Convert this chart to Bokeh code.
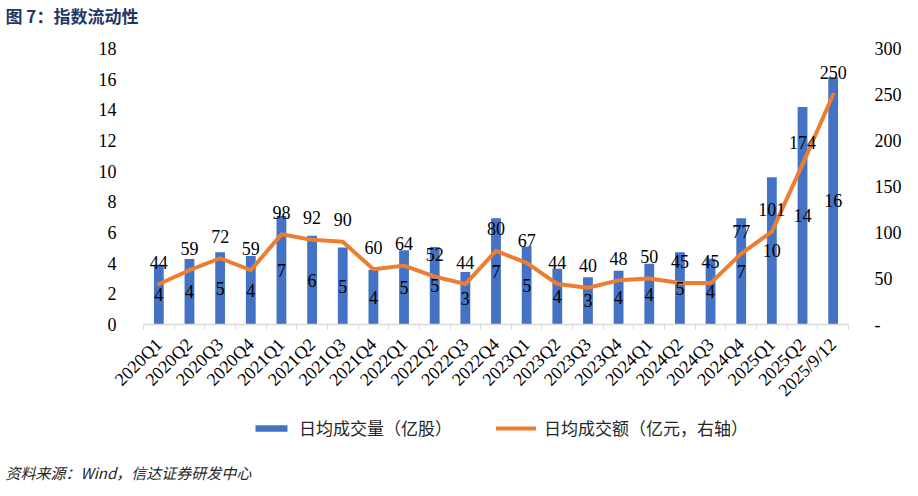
import math
import numpy as np
from bokeh.plotting import figure
from bokeh.layouts import column
from bokeh.models import (ColumnDataSource, Range1d, LinearAxis, FixedTicker,
                          LabelSet, Label, Legend, LegendItem)
from bokeh.embed import file_html
from bokeh.resources import INLINE

categories = ["2020Q1", "2020Q2", "2020Q3", "2020Q4", "2021Q1", "2021Q2", "2021Q3",
              "2021Q4", "2022Q1", "2022Q2", "2022Q3", "2022Q4", "2023Q1", "2023Q2",
              "2023Q3", "2023Q4", "2024Q1", "2024Q2", "2024Q3", "2024Q4", "2025Q1",
              "2025Q2", "2025/9/12"]
# 日均成交量（亿股）
volume = [3.90, 4.27, 4.72, 4.46, 7.08, 5.78, 5.02, 3.57, 4.85, 5.05, 3.42, 6.93,
          5.09, 3.64, 3.08, 3.51, 3.96, 4.72, 4.29, 6.93, 9.60, 14.18, 16.13]
# 日均成交额（亿元，右轴）
turnover = [44, 59, 72, 59, 98, 92, 90, 60, 64, 52, 44, 80, 67, 44, 40, 48, 50,
            45, 45, 77, 101, 174, 250]
left_ticks = [0, 2, 4, 6, 8, 10, 12, 14, 16, 18]
right_ticks = [0, 50, 100, 150, 200, 250, 300]

BLUE = "#4472C4"
ORANGE = "#ED7D31"
NUM_FONT = "Liberation Serif"
CJK_FONT = "Noto Sans CJK SC"
W = 918


def blank_fig(h):
    # strip with no axes, frame covering the whole canvas; ranges kept away
    # from the data so that only annotations show
    f = figure(width=W, height=h, output_backend="svg", toolbar_location=None,
               x_axis_location=None, y_axis_location=None,
               x_range=Range1d(-1000, -999), y_range=Range1d(-1000, -999),
               min_border_left=0, min_border_right=0, min_border_top=0,
               min_border_bottom=0, frame_align=False)
    f.outline_line_color = None
    f.grid.visible = False
    return f


n = len(categories)
x = np.arange(n)
src = ColumnDataSource(dict(
    x=x,
    vol=volume,
    vol_mid=np.array(volume) / 2,
    vol_txt=["%.0f" % v for v in volume],
    amt=turnover,
    amt_txt=[str(v) for v in turnover],
))

# ---- title strip
head = blank_fig(30)
head.add_layout(Label(x=5, y=15, x_units="screen", y_units="screen",
                      text="图 7：指数流动性", text_font=CJK_FONT, text_font_size="17px",
                      text_font_style="bold", text_color="#1F3864",
                      text_baseline="middle"))

# ---- main chart
p = figure(width=W, height=380, output_backend="svg", toolbar_location=None,
           x_range=Range1d(-0.5, n - 0.5), y_range=Range1d(left_ticks[0], left_ticks[-1]),
           min_border_left=143, min_border_right=70, min_border_top=18,
           min_border_bottom=85, frame_align=False)
p.extra_y_ranges = {"right": Range1d(right_ticks[0], right_ticks[-1])}
p.outline_line_color = None
p.xgrid.visible = False
p.ygrid.visible = False

# bottom axis: labels at centres, small ticks at the category boundaries
xa = p.xaxis[0]
xa.ticker = FixedTicker(ticks=list(x), minor_ticks=list(np.arange(n + 1) - 0.5))
xa.major_label_overrides = {int(i): c for i, c in zip(x, categories)}
xa.major_label_orientation = math.pi / 4
xa.major_tick_out = 0
xa.major_tick_in = 0
xa.minor_tick_out = 5
xa.minor_tick_in = 0
xa.minor_tick_line_color = "#D9D9D9"
xa.axis_line_color = "#D9D9D9"
xa.axis_line_width = 1.5
xa.major_label_standoff = 12
xa.major_label_text_font = NUM_FONT
xa.major_label_text_font_size = "18px"
xa.major_label_text_color = "black"

ya = p.yaxis[0]
ya.ticker = FixedTicker(ticks=left_ticks)
ya.axis_line_color = None
ya.major_tick_line_color = None
ya.minor_tick_line_color = None
ya.major_label_standoff = 21
ya.major_label_text_font = NUM_FONT
ya.major_label_text_font_size = "18px"
ya.major_label_text_color = "black"

ra = LinearAxis(y_range_name="right", ticker=FixedTicker(ticks=right_ticks),
                major_label_overrides={0: "-"})
ra.axis_line_color = None
ra.major_tick_line_color = None
ra.minor_tick_line_color = None
ra.major_label_standoff = 20
ra.major_label_text_font = NUM_FONT
ra.major_label_text_font_size = "18px"
ra.major_label_text_color = "black"
p.add_layout(ra, "right")

p.vbar(x="x", top="vol", width=0.32, source=src, fill_color=BLUE, line_color=None)
p.line("x", "amt", source=src, y_range_name="right", line_color=ORANGE,
       line_width=4, line_cap="round", line_join="round")

p.add_layout(LabelSet(x="x", y="vol_mid", text="vol_txt", source=src,
                      text_align="center", text_baseline="middle",
                      text_font=NUM_FONT, text_font_size="18px", text_color="black"))
p.add_layout(LabelSet(x="x", y="amt", text="amt_txt", source=src, y_range_name="right",
                      y_offset=22, text_align="center", text_baseline="middle",
                      text_font=NUM_FONT, text_font_size="18px", text_color="black"))

# ---- legend and source strip
foot = blank_fig(86)
bar_key = foot.vbar(x="x", top="vol", width=0.32, source=src, fill_color=BLUE,
                    line_color=None)
line_key = foot.line("x", "amt", source=src, line_color=ORANGE, line_width=4,
                     line_cap="round")
legend = Legend(items=[LegendItem(label="日均成交量（亿股）", renderers=[bar_key]),
                       LegendItem(label="日均成交额（亿元，右轴）", renderers=[line_key])],
                orientation="horizontal", location=(251, 56),
                border_line_color=None, background_fill_alpha=0,
                label_text_font=CJK_FONT, label_text_font_size="17px",
                label_text_color="#262626",
                glyph_width=40, glyph_height=8, spacing=44, label_standoff=8,
                padding=0, margin=0)
foot.add_layout(legend)
foot.add_layout(Label(x=5, y=24, x_units="screen", y_units="screen",
                      text="资料来源：Wind，信达证券研发中心", text_font=CJK_FONT,
                      text_font_size="15px", text_font_style="italic",
                      text_color="#262626", text_baseline="middle"))

page = column(head, p, foot, spacing=0)
open("out.html", "w").write(file_html(page, INLINE))
